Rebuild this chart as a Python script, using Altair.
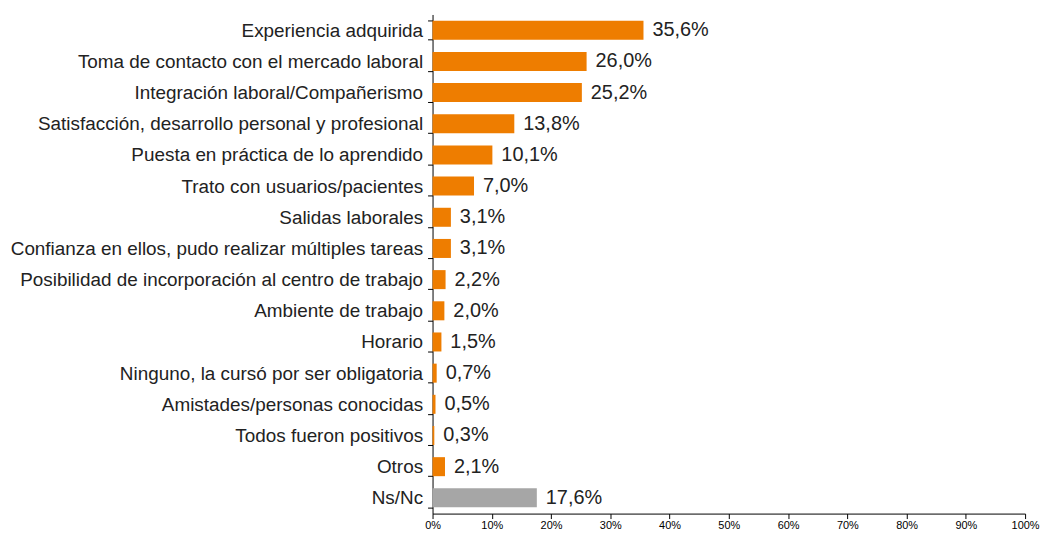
import altair as alt
import pandas as pd

categories = [
    "Experiencia adquirida",
    "Toma de contacto con el mercado laboral",
    "Integración laboral/Compañerismo",
    "Satisfacción, desarrollo personal y profesional",
    "Puesta en práctica de lo aprendido",
    "Trato con usuarios/pacientes",
    "Salidas laborales",
    "Confianza en ellos, pudo realizar múltiples tareas",
    "Posibilidad de incorporación al centro de trabajo",
    "Ambiente de trabajo",
    "Horario",
    "Ninguno, la cursó por ser obligatoria",
    "Amistades/personas conocidas",
    "Todos fueron positivos",
    "Otros",
    "Ns/Nc",
]
values = [35.6, 26.0, 25.2, 13.8, 10.1, 7.0, 3.1, 3.1, 2.2, 2.0, 1.5, 0.7, 0.5, 0.3, 2.1, 17.6]
groups = ["main"] * 15 + ["nsnc"]

df = pd.DataFrame({
    "cat": categories,
    "val": values,
    "grp": groups,
    "label": [f"{v:.1f}".replace(".", ",") + "%" for v in values],
})

y = alt.Y("cat:N", sort=categories, title=None,
          scale=alt.Scale(paddingInner=0.39, paddingOuter=0.2),
          axis=alt.Axis(tickBand="extent", labelFontSize=19, labelFont="Liberation Sans",
                        labelColor="#222222", labelLimit=600, labelPadding=5,
                        tickSize=5, domainColor="#000000", tickColor="#000000"))
x = alt.X("val:Q", title=None,
          scale=alt.Scale(domain=[0, 100], nice=False),
          axis=alt.Axis(values=list(range(0, 101, 10)), labelExpr="datum.value + '%'",
                        labelFontSize=11, labelFont="Liberation Sans", labelColor="#000000",
                        labelPadding=1,
                        grid=False, tickSize=5, domainColor="#000000", tickColor="#000000",
                        labelFlush=False))

bars = alt.Chart(df).mark_bar().encode(
    y=y, x=x,
    color=alt.Color("grp:N", scale=alt.Scale(domain=["main", "nsnc"], range=["#EE7D00", "#A6A6A6"]), legend=None),
)
text = alt.Chart(df).mark_text(align="left", baseline="middle", dx=9, fontSize=20,
                               font="Liberation Sans", color="#222222").encode(
    y=alt.Y("cat:N", sort=categories), x="val:Q", text="label:N")

chart = (bars + text).properties(
    width=596, height=502,
    autosize=alt.AutoSizeParams(type="none"),
    padding={"left": 427, "top": 5, "right": 16, "bottom": 18},
).configure_view(stroke=None)

chart.save("out.html", embed_options={"renderer": "svg", "actions": False})
